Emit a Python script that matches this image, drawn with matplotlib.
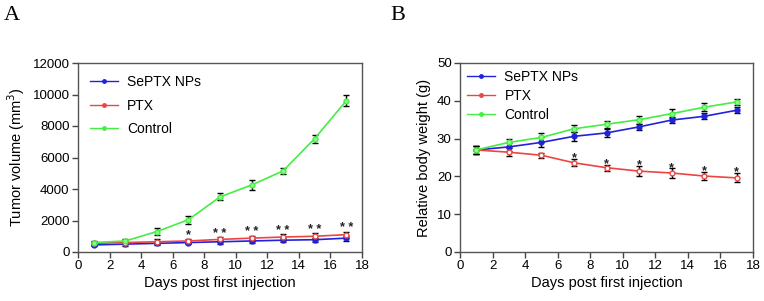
import numpy as np
import matplotlib.pyplot as plt
from matplotlib.lines import Line2D

plt.rcParams['font.family'] = ['Liberation Sans', 'DejaVu Sans']

days = [1, 3, 5, 7, 9, 11, 13, 15, 17]
groups = ['SePTX NPs', 'PTX', 'Control']

# panel A: tumor volume (mm3)
vol_septx = [450, 500, 550, 600, 650, 700, 750, 780, 880]
vol_ptx = [550, 600, 650, 700, 800, 880, 950, 1000, 1100]
vol_ctrl = [600, 700, 1300, 2050, 3500, 4250, 5150, 7200, 9600]
vol_septx_err = [100, 100, 120, 120, 120, 130, 130, 140, 150]
vol_ptx_err = [100, 120, 150, 150, 150, 160, 170, 180, 200]
vol_ctrl_err = [100, 150, 250, 250, 220, 300, 180, 250, 350]
vol_stars = ['', '', '', '*', '* *', '* *', '* *', '* *', '* *']

# panel B: relative body weight (g)
wt_septx = [27.0, 27.8, 29.0, 30.6, 31.5, 33.1, 34.9, 35.9, 37.5]
wt_ptx = [27.0, 26.4, 25.6, 23.6, 22.3, 21.4, 20.9, 20.1, 19.6]
wt_ctrl = [27.0, 29.0, 30.3, 32.6, 33.8, 35.0, 36.6, 38.3, 39.7]
wt_septx_err = [1.0, 1.0, 1.3, 1.2, 1.1, 0.8, 0.7, 0.8, 0.8]
wt_ptx_err = [1.0, 1.0, 0.6, 0.9, 0.8, 1.3, 1.2, 1.0, 1.2]
wt_ctrl_err = [1.0, 1.0, 1.1, 0.9, 0.9, 1.1, 1.2, 1.0, 0.9]
wt_stars = ['', '', '', '*', '*', '*', '*', '*', '*']

colors = ['#2222dd', '#ee4444', '#44ee44']
faces = ['#2222dd', 'white', '#88ff88']


def panel(ax, series, errs, stars, ymax, ystep, ylabel, star_off, spacing, pad):
    for vals, err, c, fc in zip(series, errs, colors, faces):
        ax.errorbar(days, vals, yerr=err, color=c, lw=1.2, marker='o', ms=3.5,
                    mfc=fc, mec=c, ecolor='black', elinewidth=1, capsize=2,
                    capthick=1, zorder=3)
    ptx, ptx_err = series[1], errs[1]
    for d, v, e, s in zip(days, ptx, ptx_err, stars):
        if s:
            ax.text(d, v + e + star_off, s, ha='center', va='center',
                    fontsize=9, fontweight='bold', color='#222222')
    ax.set_xlim(0, 18)
    ax.set_ylim(0, ymax)
    ax.set_xticks(range(0, 19, 2))
    ax.set_yticks(np.arange(0, ymax + 1, ystep))
    ax.set_xlabel('Days post first injection', fontsize=10.5, labelpad=3)
    ax.set_ylabel(ylabel, fontsize=10.5, labelpad=4)
    ax.tick_params(direction='out', length=4, width=1, labelsize=9.5,
                   color='#444444', pad=2)
    for sp in ax.spines.values():
        sp.set_color('#555555')
        sp.set_linewidth(1)
    handles = [Line2D([], [], color=c, lw=1, marker='o', ms=2.5, mfc=c, mec=c)
               for c in colors]
    ax.legend(handles, groups, loc='upper left', frameon=False, fontsize=10,
              handlelength=2, handletextpad=0.7, borderaxespad=pad,
              labelspacing=spacing)


fig = plt.figure(figsize=(7.64, 3.01), dpi=100)

axA = fig.add_axes([78 / 764, 49 / 301, 284 / 764, 189 / 301])
panel(axA, [vol_septx, vol_ptx, vol_ctrl], [vol_septx_err, vol_ptx_err, vol_ctrl_err],
      vol_stars, 12000, 2000, 'Tumor volume (mm$^3$)', 200, 0.7, 0.45)

axB = fig.add_axes([460 / 764, 49 / 301, 293 / 764, 189 / 301])
panel(axB, [wt_septx, wt_ptx, wt_ctrl], [wt_septx_err, wt_ptx_err, wt_ctrl_err],
      wt_stars, 50, 10, 'Relative body weight (g)', 0.2, 0.35, 0.1)

fig.text(4 / 764, 1 - 6 / 301, 'A', fontsize=16, family='Liberation Serif', va='top')
fig.text(390 / 764, 1 - 6 / 301, 'B', fontsize=16, family='Liberation Serif', va='top')

fig.savefig('out.png', dpi=100)
